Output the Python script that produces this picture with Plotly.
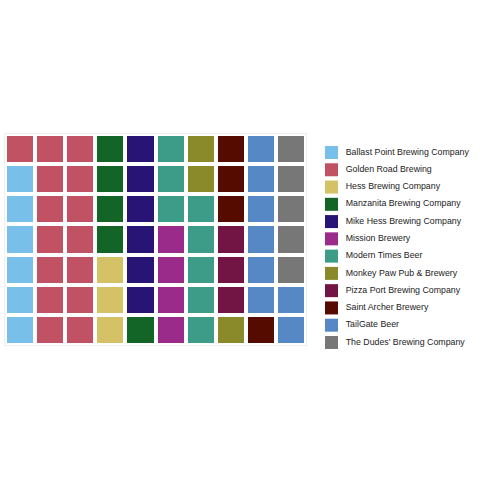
import plotly.graph_objects as go

brands = ["Ballast Point Brewing Company", "Golden Road Brewing", "Hess Brewing Company",
          "Manzanita Brewing Company", "Mike Hess Brewing Company", "Mission Brewery",
          "Modern Times Beer", "Monkey Paw Pub & Brewery", "Pizza Port Brewing Company",
          "Saint Archer Brewery", "TailGate Beer", "The Dudes' Brewing Company"]
counts = [6, 15, 3, 5, 6, 4, 8, 3, 3, 4, 8, 5]
colors = ["#78C0EA", "#C05264", "#D6C266", "#136427", "#281474", "#9A2B8A",
          "#3C9C88", "#8A8A2A", "#721444", "#560B00", "#5588C4", "#777777"]
n_rows = 7
n_cols = 10

# Build waffle grid: fill column by column, bottom to top
z = [[None] * n_cols for _ in range(n_rows)]
text = [[""] * n_cols for _ in range(n_rows)]
k = 0
for i, c in enumerate(counts):
    for _ in range(c):
        col, row = divmod(k, n_rows)
        z[row][col] = i
        text[row][col] = brands[i]
        k += 1

nb = len(brands)
colorscale = []
for i, c in enumerate(colors):
    colorscale.append([i / nb, c])
    colorscale.append([(i + 1) / nb, c])

W, H = 480, 480
ML, MR, MT, MB = 5, 0, 134, 135
PW = W - ML - MR
PH = H - MT - MB
grid_right = 306  # px
dom_split = (grid_right - ML) / PW

fig = go.Figure()
fig.add_trace(go.Heatmap(
    z=z, x=list(range(n_cols)), y=list(range(n_rows)),
    text=text, hovertemplate="%{text}<extra></extra>",
    colorscale=colorscale, zmin=-0.5, zmax=nb - 0.5,
    xgap=4, ygap=4, showscale=False, showlegend=False,
))

# Legend drawn on a second axis (units: pixels)
leg_idx = list(range(nb))
step = 17.27
y0 = 18.5
leg_y = [y0 + step * i for i in leg_idx]
fig.add_trace(go.Scatter(
    x=[25.5] * nb, y=leg_y, mode="markers",
    marker=dict(symbol="square", size=13, color=colors, line=dict(width=0)),
    xaxis="x2", yaxis="y2", hoverinfo="skip", showlegend=False, cliponaxis=False,
))
fig.add_trace(go.Scatter(
    x=[39.7] * nb, y=leg_y, mode="text", text=brands,
    textposition="middle right",
    textfont=dict(family="Liberation Sans, Arial, sans-serif", size=8.8, color="#222222"),
    xaxis="x2", yaxis="y2", hoverinfo="skip", showlegend=False, cliponaxis=False,
))

fig.update_layout(
    width=W, height=H,
    margin=dict(l=ML, r=MR, t=MT, b=MB),
    paper_bgcolor="white", plot_bgcolor="white",
    font=dict(family="Liberation Sans, Arial, sans-serif", size=9, color="#222222"),
    showlegend=False,
    xaxis=dict(domain=[0, dom_split], range=[-0.5, n_cols - 0.5], showgrid=False,
               zeroline=False, showticklabels=False, ticks="", showline=True,
               mirror=True, linecolor="#EEEEEE", linewidth=1, fixedrange=True),
    yaxis=dict(range=[-0.5, n_rows - 0.5], showgrid=False, zeroline=False,
               showticklabels=False, ticks="", showline=True, mirror=True,
               linecolor="#EEEEEE", linewidth=1, fixedrange=True),
    xaxis2=dict(domain=[dom_split, 1], range=[0, W - grid_right], visible=False,
                fixedrange=True, anchor="y2"),
    yaxis2=dict(domain=[0, 1], range=[PH, 0], visible=False, anchor="x2",
                fixedrange=True),
)

fig.write_html("out.html")
